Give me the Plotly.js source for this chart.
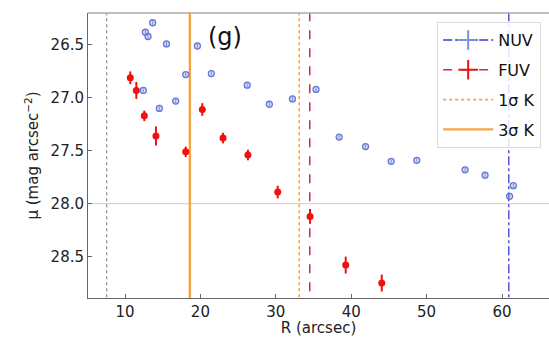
<!DOCTYPE html>
<html><head><meta charset="utf-8">
<script src="https://cdn.plot.ly/plotly-3.0.1.min.js"></script>
<style>html,body{margin:0;padding:0;background:#fff}</style>
</head><body>
<div id="chart" style="width:549px;height:337px"></div>
<script>
// NUV profile
var nuvR   = [12.43, 12.7, 13.05, 13.67, 14.55, 15.5, 16.72, 18.05, 19.6, 21.45, 26.2, 29.14, 32.2, 35.33, 38.4, 41.9, 45.3, 48.7, 55.1, 57.75, 61.0, 61.5];
var nuvMu  = [26.93, 26.38, 26.42, 26.29, 27.10, 26.49, 27.03, 26.78, 26.51, 26.77, 26.88, 27.06, 27.01, 26.92, 27.37, 27.46, 27.60, 27.59, 27.68, 27.73, 27.93, 27.83];
var nuvErr = [0.02, 0.02, 0.02, 0.02, 0.02, 0.02, 0.02, 0.02, 0.02, 0.02, 0.02, 0.02, 0.02, 0.02, 0.02, 0.02, 0.02, 0.02, 0.02, 0.02, 0.02, 0.02];
// FUV profile
var fuvR   = [10.7, 11.5, 12.56, 14.1, 18.05, 20.25, 23.0, 26.3, 30.25, 34.54, 39.27, 44.05];
var fuvMu  = [26.81, 26.93, 27.17, 27.36, 27.51, 27.11, 27.38, 27.54, 27.89, 28.12, 28.58, 28.75];
var fuvErr = [0.06, 0.08, 0.05, 0.09, 0.05, 0.06, 0.05, 0.05, 0.06, 0.07, 0.08, 0.08];
// reference radii
var nuvLimit = 60.9;
var fuvLimit = 34.5;
var k1sigma = 33.1;
var k3sigma = 18.6;
var innerR = 7.57;
var refMu = 28.0;
var panelLabel = "(g)";
var xTicks = [10, 20, 30, 40, 50, 60];
var yTicks = [26.5, 27.0, 27.5, 28.0, 28.5];

var ySpan = [25, 30];
var FONT = "DejaVu Sans, sans-serif";

function vline(x, name, color, dash, width, show, sym) {
  var t = {x:[x,x], y:ySpan, mode: sym ? 'lines+markers' : 'lines', name:name, showlegend:show,
    legendgroup:name, line:{color:color, dash:dash, width:width}, hoverinfo:'skip'};
  if (sym) t.marker = {symbol:'cross-thin', size:14, line:{width:2, color:sym}, color:sym};
  return t;
}

var traces = [
  vline(innerR, 'inner', '#888', 'dot', 1.2, false),
  {x:[0,100], y:[refMu, refMu], mode:'lines', showlegend:false, line:{color:'#d6d6d6', width:1.3}, hoverinfo:'skip'},
  vline(nuvLimit, 'NUV', '#3a3ad0', 'dashdot', 1.3, true, '#7b8fe0'),
  vline(fuvLimit, 'FUV', '#d8283c', 'dash', 1.5, true, '#f01010'),
  vline(k1sigma, '1σ K', '#f5a442', 'dot', 1.6, true),
  vline(k3sigma, '3σ K', '#f5a442', 'solid', 2.4, true),
  {x:nuvR, y:nuvMu, mode:'markers', showlegend:false,
    error_y:{type:'data', array:nuvErr, color:'#6a7fd8', thickness:1, width:0},
    marker:{symbol:'circle', size:6, color:'rgba(150,170,235,0.45)', line:{color:'#6478d6', width:1.3}}},
  {x:fuvR, y:fuvMu, mode:'markers', showlegend:false,
    error_y:{type:'data', array:fuvErr, color:'#f01010', thickness:2, width:0},
    marker:{symbol:'circle', size:7, color:'#f01010'}}
];

var layout = {
  width:549, height:337,
  margin:{l:88, r:0, t:13, b:39},
  paper_bgcolor:'#fff', plot_bgcolor:'#fff',
  font:{family:FONT, size:15, color:'#222'},
  showlegend:true,
  legend:{x:0.983, xanchor:'right', y:0.968, yanchor:'top', bgcolor:'rgba(255,255,255,0.85)',
    bordercolor:'#dcdcdc', borderwidth:1, itemwidth:50, tracegroupgap:6, traceorder:'grouped',
    font:{family:FONT, size:16, color:'#111'}},
  xaxis:{range:[5.09, 66.23], tickvals:xTicks, ticktext:xTicks.map(String), showgrid:false, zeroline:false,
    showline:true, linecolor:'#666', linewidth:1, ticks:'inside', ticklen:4, tickcolor:'#666',
    tickfont:{family:FONT, size:15, color:'#222'},
    title:{text:'R (arcsec)', font:{family:FONT, size:15, color:'#222'}, standoff:4}},
  yaxis:{range:[28.891, 26.198], tickvals:yTicks, ticktext:yTicks.map(function(v){return v.toFixed(1);}), showgrid:false, zeroline:false,
    showline:true, linecolor:'#666', linewidth:1, ticks:'inside', ticklen:4, tickcolor:'#666',
    tickfont:{family:FONT, size:15, color:'#222'},
    title:{text:'μ (mag arcsec<sup>−2</sup>)', font:{family:FONT, size:15, color:'#222'}, standoff:8}},
  shapes:[{type:'line', xref:'paper', yref:'paper', x0:0, x1:1, y0:1, y1:1, line:{color:'#aaa', width:1.5}}],
  annotations:[{text:panelLabel, xref:'paper', yref:'paper', x:(225-88)/461, y:1-(37-13)/285, xanchor:'center', yanchor:'middle',
    showarrow:false, font:{family:FONT, size:24, color:'#111'}}]
};

Plotly.newPlot('chart', traces, layout, {displayModeBar:false, staticPlot:true});
</script>
</body></html>
